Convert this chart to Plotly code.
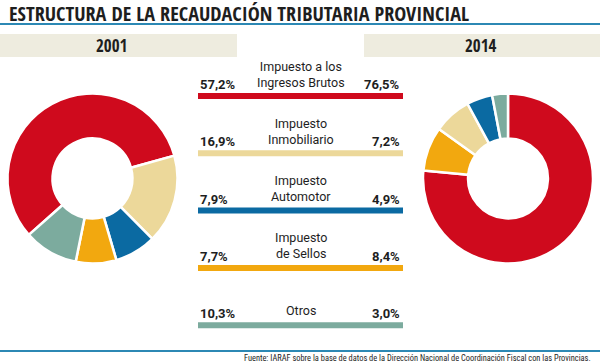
import plotly.graph_objects as go

# ---- data ----
categories = ["Impuesto a los<br>Ingresos Brutos", "Impuesto<br>Inmobiliario",
              "Impuesto<br>Automotor", "Impuesto<br>de Sellos", "Otros"]
share_2001 = [57.2, 16.9, 7.9, 7.7, 10.3]
share_2014 = [76.5, 7.2, 4.9, 8.4, 3.0]
years = ["2001", "2014"]
colors = ["#cf0a1d", "#ecd89a", "#0b6aa2", "#f2a80f", "#7cab9e"]
order_2014 = [0, 3, 1, 2, 4]

title = "ESTRUCTURA DE LA RECAUDACIÓN TRIBUTARIA PROVINCIAL"
source = "Fuente: IARAF sobre la base de datos de la Dirección Nacional de Coordinación Fiscal con las Provincias."

W, H = 600, 363
def px(x): return x / W
def py(y): return 1 - y / H

HEAD = "'Open Sans Condensed', 'Roboto Condensed', sans-serif"
NARROW = "'Roboto Condensed', sans-serif"
BODY = "Roboto, 'Noto Sans', sans-serif"
TXT = "#1e1e1e"
LINE = "#2c88b4"
BAND = "#eeecdf"

fig = go.Figure()

def pct(v):
    return f"{v:.1f}".replace(".", ",") + "%"

# donuts
fig.add_trace(go.Pie(
    labels=[c.replace("<br>", " ") for c in categories], values=share_2001,
    marker=dict(colors=colors, line=dict(color="white", width=2.5)),
    hole=0.47, sort=False, direction="clockwise", rotation=228.5,
    textinfo="none", showlegend=False,
    domain=dict(x=[px(7.5), px(177.5)], y=[py(263.5), py(93.5)])))
fig.add_trace(go.Pie(
    labels=[categories[i].replace("<br>", " ") for i in order_2014],
    values=[share_2014[i] for i in order_2014],
    marker=dict(colors=[colors[i] for i in order_2014], line=dict(color="white", width=2.5)),
    hole=0.47, sort=False, direction="clockwise", rotation=0,
    textinfo="none", showlegend=False,
    domain=dict(x=[px(423), px(593)], y=[py(263.5), py(93.5)])))

shapes = []
annotations = []

# title + rule
annotations.append(dict(text=f"<b>{title}</b>", x=px(6.5), y=py(13.5), xref="paper", yref="paper",
                        xanchor="left", yanchor="middle", showarrow=False,
                        font=dict(family=HEAD, size=20.2, color=TXT)))
shapes.append(dict(type="line", xref="paper", yref="paper", x0=0, x1=1, y0=py(24), y1=py(24),
                   line=dict(color=LINE, width=2)))

# year bands
bands = [(0, 237, 111), (364, 600, 481)]
for (x0, x1, xc), yr in zip(bands, years):
    shapes.append(dict(type="rect", xref="paper", yref="paper", x0=px(x0), x1=px(x1),
                       y0=py(57), y1=py(34), fillcolor=BAND, line=dict(width=0), layer="below"))
    annotations.append(dict(text=f"<b>{yr}</b>", x=px(xc), y=py(46), xref="paper", yref="paper",
                            xanchor="center", yanchor="middle", showarrow=False,
                            font=dict(family=HEAD, size=17, color=TXT)))

# central legend rows
BX0, BX1 = 198, 403
for i, cat in enumerate(categories):
    yb = 96 + i * 57.3
    shapes.append(dict(type="rect", xref="paper", yref="paper", x0=px(BX0), x1=px(BX1),
                       y0=py(yb + 3), y1=py(yb - 3), fillcolor=colors[i], line=dict(width=0)))
    nlines = cat.count("<br>") + 1
    annotations.append(dict(text=cat, x=px((BX0 + BX1) / 2), y=py(yb - 14.5 - (nlines - 1) * 7.5),
                            xref="paper", yref="paper", xanchor="center", yanchor="middle",
                            showarrow=False, align="center",
                            font=dict(family=BODY, size=12.5, color=TXT)))
    annotations.append(dict(text=f"<b>{pct(share_2001[i])}</b>", x=px(BX0), y=py(yb - 11.5),
                            xref="paper", yref="paper", xanchor="left", yanchor="middle",
                            showarrow=False, font=dict(family=BODY, size=13, color=TXT)))
    annotations.append(dict(text=f"<b>{pct(share_2014[i])}</b>", x=px(BX1 - 1), y=py(yb - 11.5),
                            xref="paper", yref="paper", xanchor="right", yanchor="middle",
                            showarrow=False, font=dict(family=BODY, size=13, color=TXT)))

# footer
shapes.append(dict(type="line", xref="paper", yref="paper", x0=0, x1=1, y0=py(351), y1=py(351),
                   line=dict(color=LINE, width=2)))
annotations.append(dict(text=source, x=px(593), y=py(357.5), xref="paper", yref="paper",
                        xanchor="right", yanchor="middle", showarrow=False,
                        font=dict(family=NARROW, size=8.4, color=TXT)))

fig.update_layout(width=W, height=H, margin=dict(l=0, r=0, t=0, b=0),
                  paper_bgcolor="white", plot_bgcolor="white",
                  shapes=shapes, annotations=annotations, showlegend=False)

fig.write_html("out.html", config={"displayModeBar": False},
               post_script="document.body.style.margin='0';")
